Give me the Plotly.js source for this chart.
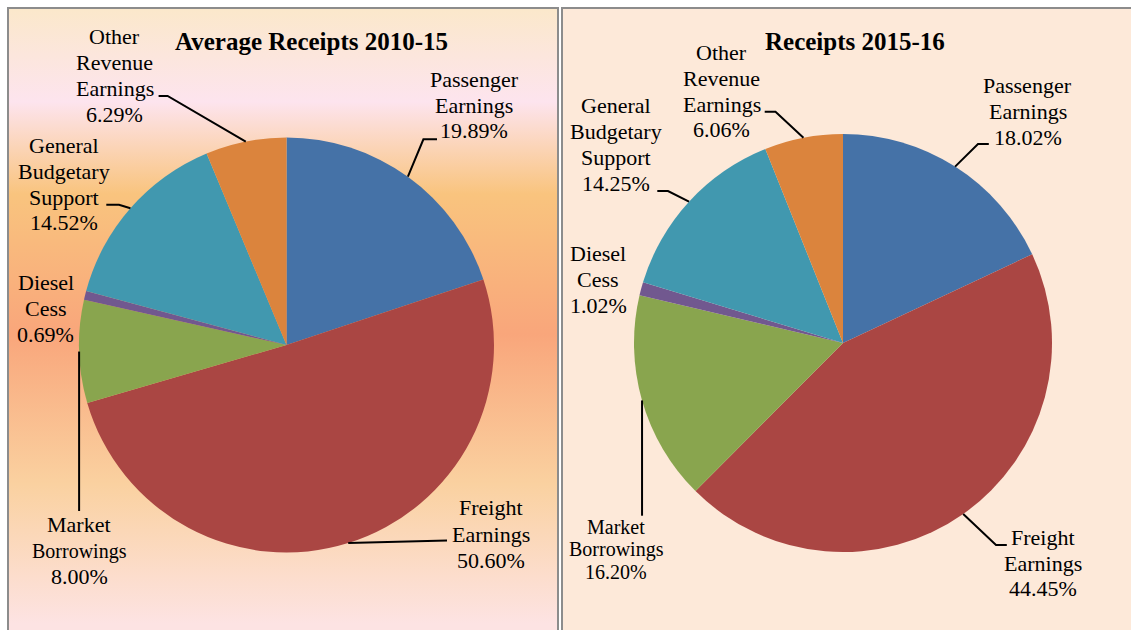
<!DOCTYPE html>
<html>
<head>
<meta charset="utf-8">
<script src="https://cdn.plot.ly/plotly-3.0.1.min.js"></script>
<style>
  html, body { margin:0; padding:0; background:#ffffff; }
  #wrap { position:relative; width:1131px; height:630px; overflow:hidden; }
  .panel { position:absolute; top:7px; box-sizing:border-box; border:2px solid #8c8c8c; border-bottom:none; }
  #panelL { left:7px; width:552px; height:640px;
    background: linear-gradient(to bottom, #FBE8CB 0px, #FDE4EE 93px, #F9C47E 185px, #F9A67B 325px, #FAD1A0 475px, #FDE3E3 615px); }
  #panelR { left:561px; width:600px; height:640px; border-right:none; background:#FDE9D9; }
  #chart { position:absolute; left:0; top:0; width:1131px; height:630px; }
</style>
</head>
<body>
<div id="wrap">
  <div class="panel" id="panelL"></div>
  <div class="panel" id="panelR"></div>
  <div id="chart"></div>
</div>
<script>
// ---------------- DATA ----------------
const categories = ['Passenger Earnings', 'Freight Earnings', 'Market Borrowings', 'Diesel Cess', 'General Budgetary Support', 'Other Revenue Earnings'];
const labelLines = [['Passenger', 'Earnings'], ['Freight', 'Earnings'], ['Market', 'Borrowings'], ['Diesel', 'Cess'], ['General', 'Budgetary', 'Support'], ['Other', 'Revenue', 'Earnings']];
const values2010_15 = [19.89, 50.60, 8.00, 0.69, 14.52, 6.29];
const values2015_16 = [18.02, 44.45, 16.20, 1.02, 14.25, 6.06];
const titles = ['Average Receipts 2010-15', 'Receipts 2015-16'];
const sliceColors = ['#4572A7', '#AA4643', '#89A54E', '#71588F', '#4198AF', '#DB843D'];

// ---------------- LAYOUT (positions in px) ----------------
const W = 1131, H = 630;
const FONT = '"Liberation Serif", "Times New Roman", serif';
const pies = [
  { values: values2010_15, cx: 286.5, cy: 345, r: 207.5, title: { x: 311, base: 50 },
    labels: [
      { x: 474,   base: 87.3,  step: 25.5, sizes: [22, 22, 22], knee: [423.4, 139.3], end: [437, 139.3] },
      { x: 490.5, base: 515,   step: 26.6, sizes: [22, 22, 22], knee: null, end: [447, 540.5] },
      { x: 79,    base: 531.7, step: 26.2, sizes: [22, 20, 22], knee: null, endY: 511 },
      { x: 45.5,  base: 290,   step: 25.8, sizes: [22, 22, 22], none: true },
      { x: 63.6,  base: 153.3, step: 25.6, sizes: [22, 22, 22, 22], knee: [119, 204.7], end: [106.3, 204.7] },
      { x: 114.5, base: 44.3,  step: 25.8, sizes: [22, 22, 22, 22], knee: [167.6, 96], end: [158.6, 96] }
    ] },
  { values: values2015_16, cx: 843, cy: 343, r: 209, title: { x: 854.6, base: 50 },
    labels: [
      { x: 1027.5, base: 93.3,  step: 25.8, sizes: [22, 22, 22], knee: [978, 144], end: [988.8, 144] },
      { x: 1043.3, base: 545,   step: 25.5, sizes: [22, 22, 22], knee: [996, 545], end: [1006.8, 545] },
      { x: 616.3,  base: 534,   step: 22.5, sizes: [20, 20, 20], knee: null, endY: 515.7 },
      { x: 598.3,  base: 261,   step: 25.8, sizes: [22, 22, 22], none: true },
      { x: 616,    base: 113.3, step: 25.8, sizes: [22, 22, 22, 22], knee: [668, 191], end: [657.3, 191] },
      { x: 721.6,  base: 60,    step: 25.8, sizes: [22, 22, 22, 22], knee: [775.5, 111.7], end: [764.7, 111.7] }
    ] }
];

const px = x => x / W;
const py = y => 1 - y / H;

const traces = [];
const annotations = [];
const shapes = [];

pies.forEach(p => {
  traces.push({
    type: 'pie',
    values: p.values,
    labels: categories,
    sort: false,
    direction: 'clockwise',
    rotation: 0,
    textinfo: 'none',
    hoverinfo: 'label+percent',
    showlegend: false,
    marker: { colors: sliceColors, line: { width: 0 } },
    domain: { x: [px(p.cx - p.r), px(p.cx + p.r)], y: [py(p.cy + p.r), py(p.cy - p.r)] }
  });

  // title
  annotations.push({
    xref: 'paper', yref: 'paper', x: px(p.title.x), y: py(p.title.base - 0.3375 * 25),
    xanchor: 'center', yanchor: 'middle', showarrow: false,
    text: '<b>' + titles[pies.indexOf(p)] + '</b>',
    font: { family: FONT, size: 25, color: '#000000' }
  });

  const total = p.values.reduce((a, b) => a + b, 0);
  let cum = 0;
  p.values.forEach((v, i) => {
    const mid = (cum + v / 2) / total;
    cum += v;
    const th = mid * 2 * Math.PI;
    const ex = p.cx + p.r * Math.sin(th);
    const ey = p.cy - p.r * Math.cos(th);
    const L = p.labels[i];
    const lines = labelLines[i].concat([v.toFixed(2) + '%']);
    lines.forEach((t, k) => {
      const s = L.sizes[k];
      const base = L.base + k * L.step;
      annotations.push({
        xref: 'paper', yref: 'paper', x: px(L.x), y: py(base - 0.3375 * s),
        xanchor: 'center', yanchor: 'middle', showarrow: false,
        text: t, font: { family: FONT, size: s, color: '#000000' }
      });
    });
    if (L.none) return;
    let pts = [[ex, ey]];
    if (L.endY !== undefined) pts.push([ex, L.endY]);
    else {
      if (L.knee) pts.push(L.knee);
      pts.push(L.end);
    }
    const path = pts.map((q, k) => (k ? 'L' : 'M') + px(q[0]).toFixed(5) + ',' + py(q[1]).toFixed(5)).join(' ');
    shapes.push({ type: 'path', xref: 'paper', yref: 'paper', path: path, line: { color: '#000000', width: 2 } });
  });
});

const layout = {
  width: W, height: H,
  margin: { l: 0, r: 0, t: 0, b: 0, pad: 0 },
  paper_bgcolor: 'rgba(0,0,0,0)',
  plot_bgcolor: 'rgba(0,0,0,0)',
  showlegend: false,
  annotations: annotations,
  shapes: shapes
};

Plotly.newPlot('chart', traces, layout, { displayModeBar: false, staticPlot: true });
</script>
</body>
</html>
